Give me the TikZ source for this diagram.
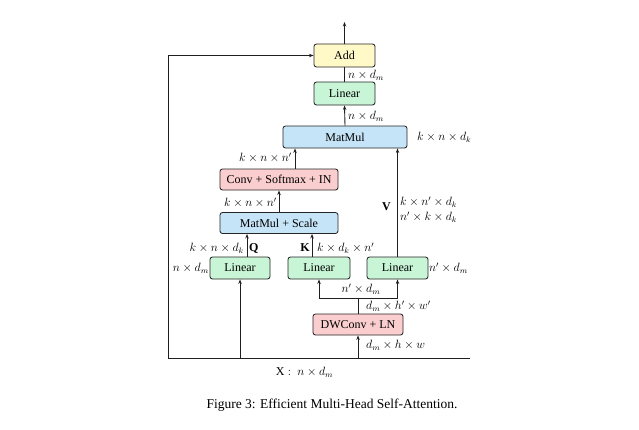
\documentclass[tikz,border=0pt]{standalone}
\usepackage{fontspec}
\setmainfont{Liberation Serif}
\usetikzlibrary{arrows.meta}
\definecolor{addY}{RGB}{255,249,200}
\definecolor{linG}{RGB}{200,245,214}
\definecolor{mmB}{RGB}{198,228,247}
\definecolor{cvR}{RGB}{250,206,206}
\begin{document}
\begin{tikzpicture}[x=1pt,y=-1pt,
 box/.style={draw=black!85, line width=0.85pt, rounded corners=2.5pt, inner sep=0pt, font=\fontspec{Liberation Serif}\fontsize{12}{14}\selectfont},
 lbl/.style={inner sep=0pt, font=\fontsize{12}{14}\selectfont},
 conn/.style={line width=0.9pt, draw=black!88},
 arr/.style={conn, -{Stealth[length=4.5pt,width=3.4pt]}}]
\useasboundingbox (0,0) rectangle (639,429);
\fill[white] (0,0) rectangle (639,429);

% boxes
\node[box, fill=addY, minimum width=61pt, minimum height=23pt] (add) at (344.5,55.5) {Add};
\node[box, fill=linG, minimum width=61pt, minimum height=23pt] (lint) at (344.5,93.5) {Linear};
\node[box, fill=mmB, minimum width=124pt, minimum height=22pt] (mm) at (345,137) {MatMul};
\node[box, fill=cvR, minimum width=118pt, minimum height=21pt] (conv) at (279,179.5) {Conv + Softmax + IN};
\node[box, fill=mmB, minimum width=118pt, minimum height=21pt] (mms) at (279,223) {MatMul + Scale};
\node[box, fill=linG, minimum width=60pt, minimum height=22pt] (linq) at (240,268) {Linear};
\node[box, fill=linG, minimum width=62pt, minimum height=22pt] (link) at (319,268) {Linear};
\node[box, fill=linG, minimum width=61pt, minimum height=22pt] (linv) at (397.5,268) {Linear};
\node[box, fill=cvR, minimum width=90pt, minimum height=21pt] (dw) at (358,324.5) {DWConv + LN};

% coordinates
\coordinate (out) at (344.5,22);
\coordinate (bl) at (168,358);
\coordinate (br) at (470,358);
\coordinate (sp) at (358,298);

% connectors
\draw[arr] (add.north) -- (out);
\draw[conn] (lint.north) -- (add.south);
\draw[arr] (mm.north) -- (lint.south);
\draw[arr] ([xshift=16pt]conv.north) -- ([xshift=16pt]conv.north |- mm.south);
\draw[arr] (linv.north) -- (linv.north |- mm.south);
\draw[arr] (mms.north) -- (conv.south);
\draw[arr] ([xshift=7pt]linq.north) -- ([xshift=7pt]linq.north |- mms.south);
\draw[arr] ([xshift=-7pt]link.north) -- ([xshift=-7pt]link.north |- mms.south);
\draw[conn] (bl) -- (br);
\draw[arr] (bl) |- (add.west);
\draw[arr] (linq.south |- bl) -- (linq.south);
\draw[arr] (dw.south |- bl) -- (dw.south);
\draw[conn] (dw.north) -- (sp);
\draw[arr] (sp) -| (link.south);
\draw[arr] (sp) -| (linv.south);

% labels
\node[lbl, anchor=west] (l1) at (348,75) {$n\times d_m$};
\node[lbl, anchor=west] (l2) at (348,116) {$n\times d_m$};
\node[lbl, anchor=west] (l3) at (417,137) {$k\times n\times d_k$};
\node[lbl, anchor=east] (l4) at (292,158) {$k\times n\times n'$};
\node[lbl, anchor=east] (l5) at (277,203) {$k\times n\times n'$};
\node[lbl, anchor=east] (l6) at (244,248) {$k\times n\times d_k$};
\node[lbl, anchor=west] (lq) at (249,248) {$\mathbf{Q}$};
\node[lbl, anchor=east] (lk) at (310,248) {$\mathbf{K}$};
\node[lbl, anchor=west] (l7) at (317,248) {$k\times d_k\times n'$};
\node[lbl, anchor=east] (l8) at (209,268) {$n\times d_m$};
\node[lbl, anchor=west] (l9) at (429,268) {$n'\times d_m$};
\node[lbl, anchor=east] (lv) at (391,207) {$\mathbf{V}$};
\node[lbl, anchor=west] (l10) at (400,202) {$k\times n'\times d_k$};
\node[lbl, anchor=west] (l11) at (400,217) {$n'\times k\times d_k$};
\node[lbl] (l12) at (361,289) {$n'\times d_m$};
\node[lbl, anchor=west] (l13) at (366,306) {$d_m\times h'\times w'$};
\node[lbl, anchor=west] (l14) at (366,345) {$d_m\times h\times w$};
\node[lbl] (lx) at (304.5,372) {$\mathrm{X}:\ n\times d_m$};
\node[inner sep=0pt, font=\fontspec{Liberation Serif}\fontsize{13.5}{16}\selectfont] (cap) at (332,405) {Figure 3: Efficient Multi-Head Self-Attention.};
\end{tikzpicture}
\end{document}
